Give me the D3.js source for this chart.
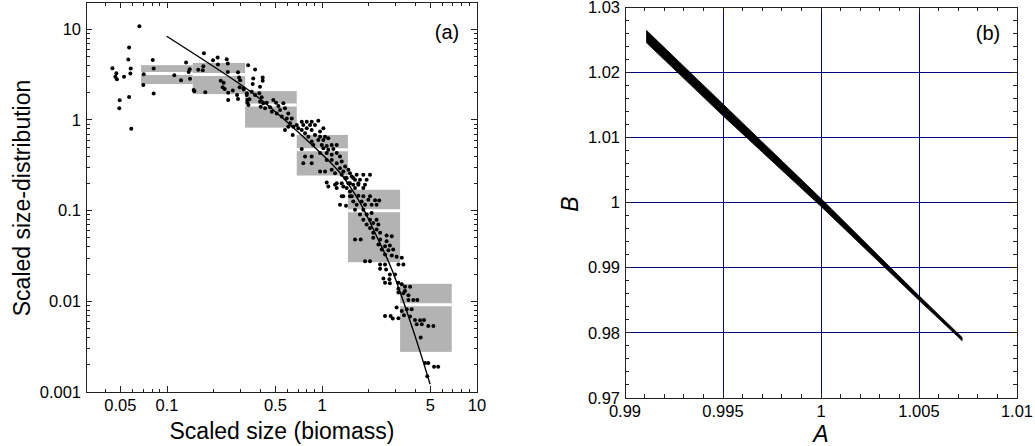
<!DOCTYPE html>
<html>
<head>
  <meta charset="utf-8">
  <title>Size distribution</title>
  <style>
    body { margin: 0; background: white; }
    svg { display: block; font-family: "Liberation Sans", Arial, sans-serif; }
    .frame { fill: none; stroke: #222; stroke-width: 1px; shape-rendering: crispEdges; }
    .tick { stroke: #222; stroke-width: 1px; shape-rendering: crispEdges; }
    .grid { stroke: #000080; stroke-width: 1px; shape-rendering: crispEdges; }
    .box { fill: #b3b3b3; }
    .mean { stroke: white; stroke-width: 3px; }
    .dot { fill: black; }
    .fit { fill: none; stroke: black; stroke-width: 1.4px; }
    .band { fill: black; stroke: black; stroke-width: 0.8px; }
  </style>
</head>
<body>
<div id="chart"></div>
<script src="https://d3js.org/d3.v7.min.js"></script>
<script>
  // ---- panel (a) data ----
  const scatter = [
    [0.0663, 10.8], [0.0444, 3.73], [0.0471, 3.28], [0.0464, 2.99], [0.0475, 2.82],
    [0.0528, 2.99], [0.0569, 6.31], [0.0562, 4.64], [0.0583, 3.70], [0.0580, 3.26],
    [0.0495, 1.65], [0.0492, 1.35], [0.0569, 1.79], [0.0588, 0.80], [0.0809, 4.60],
    [0.0820, 3.70], [0.0707, 3.20], [0.0703, 2.43], [0.0820, 1.96], [0.1114, 3.12],
    [0.123, 2.75], [0.1327, 4.31], [0.138, 3.39], [0.140, 3.63], [0.1407, 2.84],
    [0.1486, 2.14], [0.150, 2.08], [0.159, 3.57], [0.170, 3.54], [0.1715, 3.92],
    [0.173, 5.45], [0.1766, 2.02], [0.198, 4.56], [0.212, 4.89], [0.213, 4.09],
    [0.222, 2.71], [0.232, 2.57], [0.2286, 2.29], [0.2355, 2.19], [0.2427, 4.68],
    [0.2466, 4.20], [0.2466, 3.39], [0.248, 1.99], [0.248, 1.66], [0.2655, 2.12],
    [0.283, 1.88], [0.287, 1.70], [0.287, 3.37], [0.2917, 2.94], [0.296, 2.75],
    [0.294, 2.29], [0.3126, 2.17], [0.3334, 4.02], [0.3266, 1.88], [0.33, 1.66],
    [0.335, 1.46],
    [0.370, 3.61], [0.360, 2.87], [0.414, 2.94], [0.414, 2.70], [0.357, 2.49],
    [0.398, 2.32], [0.311, 2.23], [0.327, 1.97], [0.352, 2.05], [0.370, 1.88],
    [0.394, 1.97], [0.408, 1.78], [0.340, 1.69], [0.330, 1.55], [0.398, 1.59],
    [0.418, 1.53], [0.440, 1.55], [0.402, 1.40], [0.429, 1.35], [0.462, 1.38],
    [0.485, 1.66], [0.505, 1.55], [0.523, 1.43], [0.563, 1.53], [0.474, 1.23],
    [0.510, 1.18], [0.536, 1.29], [0.577, 1.35], [0.606, 1.18], [0.550, 1.09],
    [0.592, 1.04], [0.638, 1.04], [0.622, 0.92], [0.606, 0.844], [0.653, 0.844],
    [0.687, 0.881], [0.740, 0.958], [0.797, 0.958], [0.858, 0.958], [0.946, 0.982],
    [0.757, 0.881], [0.837, 0.881], [0.901, 0.881], [0.703, 0.811], [0.740, 0.777],
    [0.797, 0.811], [0.858, 0.777], [0.971, 0.744], [1.02, 0.811], [0.577, 0.777],
    [0.647, 0.684], [0.777, 0.714], [0.816, 0.655], [0.901, 0.684], [0.971, 0.655],
    [1.046, 0.655], [0.858, 0.578], [0.946, 0.603], [1.02, 0.603], [1.098, 0.629],
    [0.879, 0.531], [0.996, 0.531], [1.072, 0.518], [1.155, 0.531], [1.244, 0.531],
    [0.740, 0.477], [1.02, 0.489], [1.098, 0.468], [1.183, 0.477], [0.971, 0.431],
    [1.072, 0.431], [1.155, 0.413], [1.244, 0.431], [1.306, 0.395], [0.777, 0.395],
    [0.858, 0.395], [0.757, 0.334], [0.858, 0.334], [1.072, 0.363], [1.155, 0.363],
    [1.244, 0.334], [1.34, 0.348], [1.306, 0.294], [1.41, 0.307], [1.48, 0.282],
    [0.971, 0.270], [1.046, 0.270], [1.155, 0.282], [1.213, 0.259], [1.34, 0.249],
    [1.443, 0.229], [1.555, 0.238], [1.633, 0.219], [1.48, 0.201], [1.59, 0.193],
    [1.715, 0.201], [1.072, 0.205], [1.098, 0.185], [1.244, 0.201], [1.244, 0.178],
    [1.372, 0.185], [1.515, 0.163], [1.34, 0.144], [1.515, 0.144],
    [1.372, 0.270], [1.515, 0.259], [1.674, 0.249], [1.847, 0.249], [2.04, 0.249],
    [1.41, 0.229], [1.59, 0.229], [1.758, 0.219], [1.94, 0.219], [1.34, 0.201],
    [1.515, 0.201], [1.715, 0.193], [1.894, 0.193], [1.213, 0.193], [1.443, 0.178],
    [1.633, 0.178], [1.847, 0.178], [1.372, 0.144], [1.555, 0.144], [1.715, 0.146],
    [1.847, 0.144], [2.04, 0.144], [1.59, 0.1265], [1.803, 0.1265], [1.99, 0.132],
    [2.20, 0.130], [2.34, 0.129], [1.306, 0.1164], [1.428, 0.1135], [1.674, 0.1164],
    [1.894, 0.1164], [2.09, 0.1164], [2.25, 0.1164], [1.633, 0.1026], [1.847, 0.1026],
    [1.758, 0.0904], [1.94, 0.0904], [2.09, 0.0944], [1.847, 0.0796], [2.04, 0.0796],
    [2.25, 0.0796], [1.94, 0.0702], [2.14, 0.0733], [2.31, 0.0702], [2.04, 0.0645],
    [2.25, 0.0618], [2.14, 0.0569], [2.37, 0.0569], [2.61, 0.0531], [2.82, 0.0522],
    [1.633, 0.048], [1.777, 0.048], [2.14, 0.0501], [2.37, 0.048], [2.61, 0.046],
    [2.31, 0.0423], [2.55, 0.0405], [2.74, 0.0412], [2.43, 0.0373], [2.68, 0.0366],
    [2.88, 0.0373], [2.55, 0.0328], [2.82, 0.032], [3.03, 0.031], [3.27, 0.0302],
    [1.894, 0.0277], [2.04, 0.0277], [2.37, 0.0255], [2.55, 0.0255], [3.11, 0.0255],
    [3.35, 0.0255], [2.37, 0.0229], [2.59, 0.0225], [2.74, 0.0198], [2.96, 0.0198],
    [2.49, 0.0179], [2.72, 0.0175], [2.55, 0.016], [2.74, 0.0158], [3.11, 0.016],
    [3.27, 0.0154], [3.43, 0.0145], [3.70, 0.0145], [3.11, 0.0138], [3.43, 0.013],
    [3.11, 0.0125], [3.35, 0.01225], [3.61, 0.01164], [3.61, 0.01035], [3.88, 0.01035],
    [4.12, 0.01035], [3.03, 0.00853], [3.27, 0.00782], [3.52, 0.00817], [3.79, 0.00817],
    [2.55, 0.00689], [2.77, 0.00689], [2.86, 0.00645], [3.11, 0.0065], [3.38, 0.00702],
    [3.70, 0.00679], [3.98, 0.00623], [4.29, 0.00618], [4.55, 0.00623], [4.08, 0.00558],
    [4.40, 0.00558], [4.85, 0.00535], [5.23, 0.00535], [4.33, 0.00399], [4.62, 0.00209],
    [4.85, 0.00209], [5.28, 0.0019], [5.62, 0.0019], [4.78, 0.00149]
  ];

  // bins: [size from, size to, range low, range high, mean]
  const bins = [
    [0.068, 0.1465, 2.49, 4.02, 3.26],
    [0.1465, 0.319, 1.93, 4.26, 3.18],
    [0.319, 0.687, 0.823, 2.08, 1.46],
    [0.687, 1.47, 0.244, 0.684, 0.468],
    [1.47, 3.19, 0.027, 0.170, 0.100],
    [3.19, 6.87, 0.00277, 0.0156, 0.00916]
  ];

  const fitSize = [0.0995, 0.340, 0.485, 0.797, 1.306, 1.758, 2.25, 2.82, 3.98, 4.98];
  const fitDist = [8.38, 2.10, 1.29, 0.603, 0.262, 0.1225, 0.0522, 0.0225, 0.00416, 0.00122];

  const xTickLabelsA = [0.05, 0.1, 0.5, 1, 5, 10];
  const yTickLabelsA = [0.001, 0.01, 0.1, 1, 10];

  // ---- panel (b) data ----
  const bandA = [0.9911, 0.995, 1.0, 1.005, 1.0072];
  const bandUpper = [1.0264, 1.0151, 1.0006, 0.9857, 0.9793];
  const bandLower = [1.0245, 1.0133, 0.9994, 0.9850, 0.9788];

  const xTicksB = [0.99, 0.995, 1, 1.005, 1.01];
  const yTicksB = [0.97, 0.98, 0.99, 1, 1.01, 1.02, 1.03];

  const svg = d3.select("#chart").append("svg")
    .attr("width", 1035).attr("height", 446);

  // ================= panel (a) =================
  const xA = d3.scaleLog().domain([0.03, 10]).range([86, 477]);
  const yA = d3.scaleLog().domain([0.001, 20]).range([392, 2]);

  const gA = svg.append("g");

  gA.selectAll(".box").data(bins).enter().append("rect")
    .attr("class", "box")
    .attr("x", d => xA(d[0]))
    .attr("width", d => xA(d[1]) - xA(d[0]))
    .attr("y", d => yA(d[3]))
    .attr("height", d => yA(d[2]) - yA(d[3]));

  gA.selectAll(".mean").data(bins).enter().append("line")
    .attr("class", "mean")
    .attr("x1", d => xA(d[0])).attr("x2", d => xA(d[1]))
    .attr("y1", d => yA(d[4])).attr("y2", d => yA(d[4]));

  gA.selectAll(".dot").data(scatter).enter().append("circle")
    .attr("class", "dot")
    .attr("r", 2)
    .attr("cx", d => xA(d[0]))
    .attr("cy", d => yA(d[1]));

  const fitLine = d3.line()
    .x((d, i) => xA(fitSize[i]))
    .y(d => yA(d))
    .curve(d3.curveCatmullRom);
  gA.append("path").attr("class", "fit").attr("d", fitLine(fitDist));

  // log ticks on all four sides, pointing inward
  function logTicks(lo, hi) {
    const t = [];
    for (let e = Math.floor(Math.log10(lo)); e <= Math.ceil(Math.log10(hi)); e++) {
      for (let m = 1; m < 10; m++) {
        const v = m * Math.pow(10, e);
        if (v >= lo * 0.999 && v <= hi * 1.001) t.push(v);
      }
    }
    return t;
  }
  const isMajorX = v => xTickLabelsA.some(l => Math.abs(l - v) / l < 1e-6);
  const isMajorY = v => yTickLabelsA.some(l => Math.abs(l - v) / l < 1e-6);

  logTicks(0.03, 10).forEach(v => {
    const len = isMajorX(v) ? 6 : 3.5;
    const x = xA(v);
    gA.append("line").attr("class", "tick").attr("x1", x).attr("x2", x).attr("y1", 392).attr("y2", 392 - len);
    gA.append("line").attr("class", "tick").attr("x1", x).attr("x2", x).attr("y1", 2).attr("y2", 2 + len);
  });
  logTicks(0.001, 20).forEach(v => {
    const len = isMajorY(v) ? 6 : 3.5;
    const y = yA(v);
    gA.append("line").attr("class", "tick").attr("x1", 86).attr("x2", 86 + len).attr("y1", y).attr("y2", y);
    gA.append("line").attr("class", "tick").attr("x1", 477).attr("x2", 477 - len).attr("y1", y).attr("y2", y);
  });

  gA.append("rect").attr("class", "frame")
    .attr("x", 86).attr("y", 2).attr("width", 477 - 86).attr("height", 392 - 2);

  gA.selectAll(".xlab").data(xTickLabelsA).enter().append("text")
    .attr("x", d => xA(d)).attr("y", 411)
    .attr("text-anchor", "middle").attr("font-size", 16.5)
    .text(d => d);
  gA.selectAll(".ylab").data(yTickLabelsA).enter().append("text")
    .attr("x", 81).attr("y", d => yA(d)).attr("dy", "0.35em")
    .attr("text-anchor", "end").attr("font-size", 16.5)
    .text(d => d);

  gA.append("text").attr("x", 282).attr("y", 439)
    .attr("text-anchor", "middle").attr("font-size", 23)
    .text("Scaled size (biomass)");
  gA.append("text").attr("transform", "translate(30,198) rotate(-90)")
    .attr("text-anchor", "middle").attr("font-size", 23)
    .text("Scaled size-distribution");
  gA.append("text").attr("x", 447).attr("y", 39)
    .attr("text-anchor", "middle").attr("font-size", 20)
    .text("(a)");

  // ================= panel (b) =================
  const xB = d3.scaleLinear().domain([0.99, 1.01]).range([625, 1017]);
  const yB = d3.scaleLinear().domain([0.97, 1.03]).range([398, 7]);
  const gB = svg.append("g");

  gB.selectAll(".gx").data(xTicksB.slice(1, -1)).enter().append("line")
    .attr("class", "grid")
    .attr("x1", d => xB(d)).attr("x2", d => xB(d)).attr("y1", 7).attr("y2", 398);
  gB.selectAll(".gy").data(yTicksB.slice(1, -1)).enter().append("line")
    .attr("class", "grid")
    .attr("y1", d => yB(d)).attr("y2", d => yB(d)).attr("x1", 625).attr("x2", 1017);

  // minor ticks
  d3.range(0, 21).forEach(i => {
    const x = xB(0.99 + i * 0.001);
    const len = i % 5 === 0 ? 6 : 4;
    gB.append("line").attr("class", "tick").attr("x1", x).attr("x2", x).attr("y1", 398).attr("y2", 398 - len);
    gB.append("line").attr("class", "tick").attr("x1", x).attr("x2", x).attr("y1", 7).attr("y2", 7 + len);
  });
  d3.range(0, 31).forEach(i => {
    const y = yB(0.97 + i * 0.002);
    const len = i % 5 === 0 ? 6 : 4;
    gB.append("line").attr("class", "tick").attr("x1", 625).attr("x2", 625 + len).attr("y1", y).attr("y2", y);
    gB.append("line").attr("class", "tick").attr("x1", 1017).attr("x2", 1017 - len).attr("y1", y).attr("y2", y);
  });

  const band = d3.area()
    .x((d, i) => xB(bandA[i]))
    .y0((d, i) => yB(bandLower[i]))
    .y1(d => yB(d));
  gB.append("path").attr("class", "band").attr("d", band(bandUpper));

  gB.append("rect").attr("class", "frame")
    .attr("x", 625).attr("y", 7).attr("width", 1017 - 625).attr("height", 398 - 7);

  gB.selectAll(".xlab").data(xTicksB).enter().append("text")
    .attr("x", d => xB(d)).attr("y", 417)
    .attr("text-anchor", "middle").attr("font-size", 16.5)
    .text(d => d);
  gB.selectAll(".ylab").data(yTicksB).enter().append("text")
    .attr("x", 620).attr("y", d => yB(d)).attr("dy", "0.35em")
    .attr("text-anchor", "end").attr("font-size", 16.5)
    .text(d => d);

  gB.append("text").attr("x", 821).attr("y", 442)
    .attr("text-anchor", "middle").attr("font-size", 23).attr("font-style", "italic")
    .text("A");
  gB.append("text").attr("transform", "translate(578,204) rotate(-90)")
    .attr("text-anchor", "middle").attr("font-size", 23).attr("font-style", "italic")
    .text("B");
  gB.append("text").attr("x", 988).attr("y", 40)
    .attr("text-anchor", "middle").attr("font-size", 20)
    .text("(b)");
</script>
</body>
</html>
